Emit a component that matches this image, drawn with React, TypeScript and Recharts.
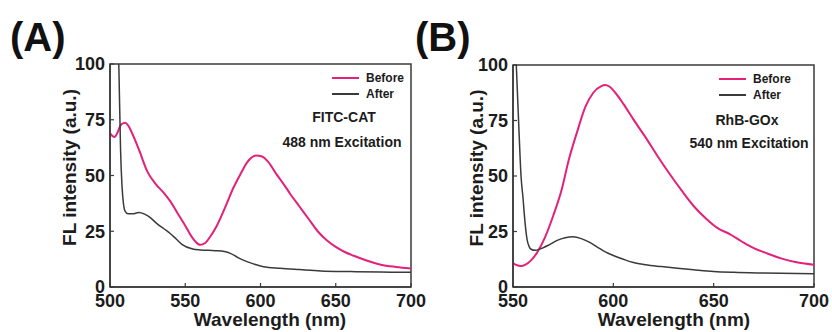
import React from "react";
import { LineChart, Line, XAxis, YAxis, ReferenceArea, Legend } from "recharts";

// panel A: FITC-CAT, 488 nm excitation
const aBeforeWl = [500, 502, 503, 505, 507, 509, 510, 512, 515, 519, 525, 530, 536, 540, 545, 550, 554, 557, 560, 563, 567, 571, 577, 582, 587, 591, 597, 601, 605, 610, 615, 620, 626, 632, 638, 644, 650, 656, 662, 670, 680, 690, 700];
const aBeforeFl = [69, 67.5, 67.3, 69.3, 72.5, 73.5, 73.6, 72.5, 68.5, 62, 51.5, 46.5, 42, 38.5, 33, 27.5, 22.8, 20.2, 18.9, 19.6, 23, 27.5, 36.5, 44.5, 51, 55.8, 59, 58.5, 56.2, 51.2, 46.5, 41.5, 36, 30.5, 25, 21, 18, 15.7, 14, 12, 10, 9, 8.3];
const aAfterWl = [505, 506, 507, 508, 509, 510, 512, 515, 519, 523, 527, 531, 536, 540, 544, 548, 555, 560, 570, 576, 580, 585, 591, 597, 602, 613, 626, 640, 660, 680, 700];
const aAfterFl = [125, 95, 62, 45, 37, 34, 32.8, 32.8, 33.4, 32.7, 31, 28.5, 26, 24, 21.5, 19, 17, 16.6, 16.3, 15.9, 15.1, 13.2, 11.4, 10, 9.1, 8.4, 7.8, 7.2, 6.9, 6.7, 6.6];

// panel B: RhB-GOx, 540 nm excitation
const bBeforeWl = [550, 552, 554, 556, 559, 562, 566, 570, 574, 578, 582, 586, 590, 594, 596, 598, 601, 605, 610, 616, 622, 628, 634, 640, 646, 652, 658, 664, 670, 677, 684, 692, 700];
const bBeforeFl = [10.8, 9.8, 9.5, 10, 12, 15.5, 22.5, 32, 43, 58, 70, 81, 87.5, 90.5, 91, 90.3, 87.5, 82.5, 75.5, 67.5, 59, 51, 43.5, 36.5, 31, 26.5, 23.8, 20.5, 17.5, 15, 12.8, 11, 10];
const bAfterWl = [550, 551, 552, 553, 554, 555, 556, 557, 558, 559, 561, 564, 568, 572, 576, 580, 584, 588, 592, 596, 600, 605, 610, 616, 624, 632, 640, 650, 660, 675, 700];
const bAfterFl = [140, 115, 92, 70, 50, 40, 29, 21.5, 18.3, 17, 16.5, 17.3, 19, 21, 22.2, 22.6, 21.8, 20.2, 18, 15.8, 14.2, 12.5, 11, 10, 9.2, 8.5, 7.8, 7, 6.6, 6.3, 6];

const yTicks = [0, 25, 50, 75, 100];
const aTicks = [500, 550, 600, 650, 700];
const bTicks = [550, 600, 650, 700];
const seriesOrder = ["Before", "After"];

const FONT = "'Liberation Sans', Arial, Helvetica, sans-serif";
const PINK = "#e3207a";
const DARK = "#3a3a3a";
const INK = "#1c1c1c";

const toRows = (wl, fl) => wl.map((w, i) => ({ w, v: fl[i] }));

const tickStyle = { fill: INK, fontSize: 18, fontWeight: 700, fontFamily: FONT };

function LegendBox({ payload }) {
  const items = [...(payload || [])].sort((a, b) => seriesOrder.indexOf(a.value) - seriesOrder.indexOf(b.value));
  return (
    <div style={{ fontFamily: FONT, fontWeight: 700, fontSize: 12, color: INK }}>
      {items.map((p) => (
        <div key={p.value} style={{ display: "flex", alignItems: "center", height: 16 }}>
          <svg width={30} height={4} style={{ marginRight: 4 }}>
            <line x1={0} y1={2} x2={27} y2={2} stroke={p.color} strokeWidth={2} />
          </svg>
          <span>{p.value}</span>
        </div>
      ))}
    </div>
  );
}

function Panel(props) {
  const { left, width, margin, yAxisWidth, domain, ticks, before, after, tag, tagX, yTitleX, xTitleX, legendPos, name, excitation, namePos, excPos } = props;
  return (
    <div style={{ position: "absolute", left, top: 0, width, height: 332 }}>
      <LineChart width={width} height={332} margin={margin}>
        <XAxis
          dataKey="w"
          type="number"
          domain={domain}
          ticks={ticks}
          allowDataOverflow
          height={45}
          tickSize={-4}
          tickMargin={11}
          tick={tickStyle}
          axisLine={{ stroke: DARK, strokeWidth: 1.5 }}
          tickLine={{ stroke: DARK, strokeWidth: 1.2 }}
          label={{
            content: ({ viewBox }) => (
              <text x={xTitleX} y={viewBox.y + 39} textAnchor="middle" fill={INK} fontSize={19} fontWeight={700} fontFamily={FONT}>
                Wavelength (nm)
              </text>
            ),
          }}
        />
        <YAxis
          type="number"
          domain={[0, 100]}
          ticks={yTicks}
          allowDataOverflow
          width={yAxisWidth}
          tickSize={-4}
          tickMargin={9}
          tick={tickStyle}
          axisLine={{ stroke: DARK, strokeWidth: 1.5 }}
          tickLine={{ stroke: DARK, strokeWidth: 1.2 }}
          label={{
            content: ({ viewBox }) => {
              const cy = viewBox.y + viewBox.height / 2 - 8;
              return (
                <text x={yTitleX} y={cy} transform={`rotate(-90 ${yTitleX} ${cy})`} textAnchor="middle" dominantBaseline="central" fill={INK} fontSize={19} fontWeight={700} fontFamily={FONT}>
                  FL intensity (a.u.)
                </text>
              );
            },
          }}
        />
        <ReferenceArea x1={domain[0]} x2={domain[1]} y1={0} y2={100} fill="none" stroke={DARK} strokeWidth={1.5} />
        <Line data={toRows(before[0], before[1])} dataKey="v" name="Before" type="monotone" stroke={PINK} strokeWidth={2} dot={false} isAnimationActive={false} />
        <Line data={toRows(after[0], after[1])} dataKey="v" name="After" type="monotone" stroke={DARK} strokeWidth={1.5} dot={false} isAnimationActive={false} />
        <Legend
          content={LegendBox}
          layout="vertical"
          align="center"
          verticalAlign="middle"
          wrapperStyle={{ left: legendPos[0], top: legendPos[1], width: 90, bottom: "auto", right: "auto" }}
        />
      </LineChart>
      <div style={{ position: "absolute", left: tagX, top: 37, transform: "translateY(-50%)", fontFamily: FONT, fontWeight: 700, fontSize: 40, lineHeight: 1, color: "#111" }}>{tag}</div>
      <div style={{ position: "absolute", left: namePos[0], top: namePos[1], transform: "translate(-50%,-50%)", fontFamily: FONT, fontWeight: 700, fontSize: 14, lineHeight: 1, color: INK, whiteSpace: "nowrap" }}>{name}</div>
      <div style={{ position: "absolute", left: excPos[0], top: excPos[1], transform: "translate(-50%,-50%)", fontFamily: FONT, fontWeight: 700, fontSize: 14, lineHeight: 1, color: INK, whiteSpace: "nowrap" }}>{excitation}</div>
    </div>
  );
}

export default function App() {
  return (
    <div style={{ position: "absolute", left: 0, top: 0, width: 832, height: 332, background: "#fff", overflow: "hidden" }}>
      <Panel
        left={0}
        width={450}
        margin={{ top: 64, right: 39, bottom: 0, left: 0 }}
        yAxisWidth={110}
        domain={[500, 700]}
        ticks={aTicks}
        before={[aBeforeWl, aBeforeFl]}
        after={[aAfterWl, aAfterFl]}
        tag="(A)"
        tagX={10}
        yTitleX={69}
        xTitleX={270}
        legendPos={[332, 70]}
        name="FITC-CAT"
        excitation="488 nm Excitation"
        namePos={[344, 117]}
        excPos={[342, 142]}
      />
      <Panel
        left={412}
        width={420}
        margin={{ top: 65, right: 18, bottom: 0, left: 0 }}
        yAxisWidth={101}
        domain={[550, 700]}
        ticks={bTicks}
        before={[bBeforeWl, bBeforeFl]}
        after={[bAfterWl, bAfterFl]}
        tag="(B)"
        tagX={3}
        yTitleX={64}
        xTitleX={262}
        legendPos={[307, 71]}
        name="RhB-GOx"
        excitation="540 nm Excitation"
        namePos={[335, 120]}
        excPos={[337, 143]}
      />
    </div>
  );
}
